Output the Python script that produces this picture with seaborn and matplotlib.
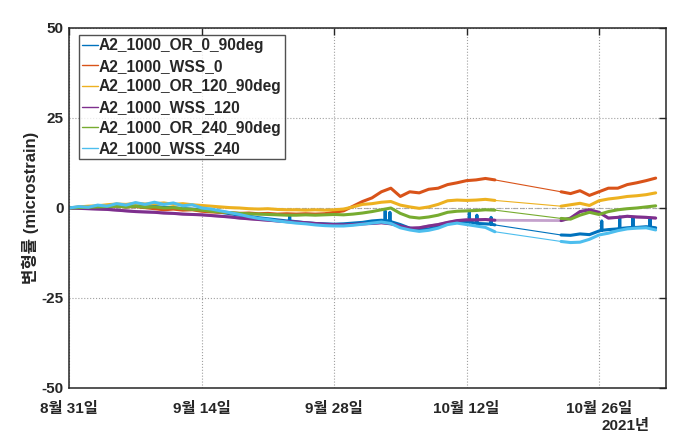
"""
Strain history plot for the A2_1000 gauges (OR / WSS pairs)
"""
import matplotlib
matplotlib.use("Agg")
import matplotlib.pyplot as plt
import matplotlib.dates as mdates
from matplotlib.lines import Line2D
import numpy as np
import pandas as pd
import seaborn as sns

START = pd.Timestamp("2021-08-31")

# day offsets from Aug 31 (gap in logging between Oct 15 and Oct 22)
DAYS = list(range(0, 46)) + list(range(52, 63))

SERIES = ["A2_1000_OR_0_90deg", "A2_1000_WSS_0", "A2_1000_OR_120_90deg",
          "A2_1000_WSS_120", "A2_1000_OR_240_90deg", "A2_1000_WSS_240"]
COLORS = ["#0072BD", "#D95319", "#EDB120", "#7E2F8E", "#77AC30", "#4DBEEE"]

or_0 = [0, 0.1, 0.3, 0.3, 0.5, 0.6, 0.4, 0.6, 0.3, 0.4, 0.2, 0.1, -0.2, -0.3, -0.5,
        -0.9, -1.2, -1.6, -2.0, -2.3, -2.7, -3.0, -3.3, -3.6, -3.8, -4.1, -4.3, -4.4, -4.5, -4.4,
        -4.2, -4.0, -3.6, -3.4, -3.8, -4.6, -5.6, -6.0, -5.8, -5.2, -4.4, -4.0, -3.8, -4.2, -4.4, -4.7,
        -7.5, -7.6, -7.2, -7.4, -6.4, -6.0, -5.8, -5.5, -5.4, -5.2, -5.5]
wss_0 = [0, 0.2, 0.4, 0.3, 0.6, 0.5, 0.3, 0.4, 0.1, -0.2, -0.5, -0.3, -0.6, -0.5, -0.9,
         -1.1, -1.2, -1.3, -1.5, -1.4, -1.6, -1.5, -1.7, -1.6, -1.7, -1.6, -1.7, -1.6, -1.2, -0.8,
         0.5, 1.8, 2.8, 4.5, 5.5, 3.2, 4.5, 4.2, 5.2, 5.5, 6.5, 7.0, 7.6, 7.8, 8.2, 7.8,
         4.5, 4.0, 4.8, 3.5, 4.5, 5.5, 5.5, 6.5, 7.0, 7.6, 8.3]
or_120 = [0, 0.3, 0.5, 0.6, 0.9, 1.1, 1.0, 1.3, 1.1, 1.2, 1.4, 1.0, 1.2, 0.9, 0.7,
          0.5, 0.3, 0.1, 0.0, -0.2, -0.3, -0.2, -0.4, -0.5, -0.5, -0.6, -0.5, -0.6, -0.5, -0.3,
          0.3, 1.0, 1.2, 1.6, 1.8, 0.8, 0.3, -0.1, 0.3, 1.0, 2.0, 2.2, 2.1, 2.2, 2.4, 2.1,
          0.5, 0.9, 1.3, 0.7, 2.0, 2.5, 2.8, 3.2, 3.4, 3.7, 4.2]
wss_120 = [0, -0.1, -0.2, -0.3, -0.4, -0.6, -0.8, -1.0, -1.1, -1.2, -1.4, -1.5, -1.7, -1.8, -1.9,
           -2.1, -2.3, -2.5, -2.8, -3.0, -3.2, -3.4, -3.6, -3.8, -3.9, -4.1, -4.3, -4.5, -4.6, -4.7,
           -4.6, -4.4, -4.3, -4.1, -4.4, -5.0, -5.6, -5.5, -5.0, -4.6, -4.0, -3.5, -3.3, -3.3, -3.2, -3.4,
           -3.5, -2.8, -1.0, -0.5, -1.2, -2.8, -2.6, -2.3, -2.5, -2.6, -2.8]
or_240 = [0, 0.1, 0.2, 0.3, 0.4, 0.5, 0.3, 0.5, 0.2, 0.3, 0.0, 0.1, -0.2, -0.4, -0.6,
          -0.9, -1.1, -1.3, -1.5, -1.6, -1.7, -1.8, -1.9, -2.0, -2.0, -1.9, -2.0, -1.9, -1.8, -1.9,
          -1.7, -1.4, -1.0, -0.5, 0.0, -1.5, -2.5, -2.8, -2.5, -2.0, -1.2, -0.9, -0.8, -0.7, -0.5, -0.6,
          -2.9, -3.1, -2.0, -1.2, -1.8, -1.0, -0.5, -0.2, 0.0, 0.3, 0.6]
wss_240 = [0, 0.4, 0.2, 0.8, 0.5, 1.2, 0.8, 1.5, 1.0, 1.6, 1.0, 1.4, 0.6, 0.9, 0.0,
           -0.3, -0.8, -1.3, -1.8, -2.4, -2.9, -3.2, -3.6, -3.9, -4.2, -4.4, -4.7, -4.9, -5.0, -5.0,
           -4.8, -4.5, -4.2, -3.9, -4.3, -5.5, -6.1, -6.5, -6.2, -5.6, -4.6, -4.2, -4.6, -5.0, -5.4, -6.6,
           -9.3, -9.6, -9.5, -8.7, -7.5, -7.0, -6.3, -5.8, -5.6, -5.5, -6.1]

# short upward spikes on the OR_0 gauge (day offset, base, peak)
SPIKE_DAYS = [23.3, 33.4, 33.9, 42.3, 43.1, 44.6, 56.3, 58.2, 59.6, 61.4]
SPIKE_BASE = [-3.6, -3.5, -3.6, -3.9, -4.3, -4.5, -6.2, -5.7, -5.4, -5.3]
SPIKE_PEAK = [-1.8, -0.8, -1.2, -1.0, -2.0, -2.6, -3.6, -2.5, -2.8, -2.8]

X_TICKS = ["2021-08-31", "2021-09-14", "2021-09-28", "2021-10-12", "2021-10-26"]
Y_TICKS = [-50, -25, 0, 25, 50]

values = [or_0, wss_0, or_120, wss_120, or_240, wss_240]
rows = []
for name, vals in zip(SERIES, values):
    for d, v in zip(DAYS, vals):
        rows.append((name, d, v))
for d, b, p in zip(SPIKE_DAYS, SPIKE_BASE, SPIKE_PEAK):
    rows += [(SERIES[0], d - 0.03, b), (SERIES[0], d, p), (SERIES[0], d + 0.03, b)]

df = pd.DataFrame(rows, columns=["series", "day", "strain"]).sort_values(["series", "day"])
df["segment"] = np.where(df["day"] < 48, 0, 1)
df["date"] = START + pd.to_timedelta(df["day"], unit="D")
palette = dict(zip(SERIES, COLORS))

sns.set_style("white")
plt.rcParams["font.family"] = ["Liberation Sans", "Noto Sans CJK KR"]
plt.rcParams["font.weight"] = "bold"
plt.rcParams["axes.unicode_minus"] = False

fig = plt.figure(figsize=(6.89, 4.47), dpi=100)
ax = fig.add_axes([0.1006, 0.132, 0.8661, 0.8054])

for name in SERIES:
    sub = df[df["series"] == name]
    is_purple = name == SERIES[3]
    # thin connector across the logging gap
    sns.lineplot(data=sub, x="date", y="strain", color=palette[name], estimator=None,
                 lw=2.0 if is_purple else 0.8, alpha=0.45 if is_purple else 1.0,
                 sort=False, legend=False, ax=ax)
    sns.lineplot(data=sub, x="date", y="strain", units="segment", color=palette[name],
                 estimator=None, lw=2.2, sort=False, legend=False, ax=ax)

ax.axhline(0, color="#b0b0b0", lw=0.8, ls=(0, (4, 3)), zorder=0)
ax.set_xlim(START, START + pd.Timedelta(days=63.1))
ax.set_ylim(-50, 50)
ax.set_xticks(pd.to_datetime(X_TICKS))
ax.xaxis.set_major_formatter(mdates.DateFormatter("%-m월 %-d일"))
ax.set_yticks(Y_TICKS)
ax.grid(True, ls=":", color="#a0a0a0", lw=0.8)
ax.tick_params(direction="in", top=True, right=True, length=5, width=1, labelsize=11,
               colors="#262626")
ax.tick_params(axis="x", pad=10)
ax.tick_params(axis="y", pad=4)
for lab in ax.get_xticklabels() + ax.get_yticklabels():
    lab.set_fontweight("bold")
for sp in ax.spines.values():
    sp.set_color("#262626")
    sp.set_linewidth(1.1)
ax.set_xlabel("")
ax.set_ylabel("변형률 (microstrain)", fontsize=12, fontweight="bold", labelpad=2)
fig.text(650 / 689, 1 - 426 / 447, "2021년", ha="right", va="center", fontsize=11,
         fontweight="bold", color="#262626")

handles = [Line2D([], [], color=c, lw=1) for c in COLORS]
leg = ax.legend(handles, SERIES, loc="upper left", bbox_to_anchor=(0.016, 0.98),
                fontsize=11.2, frameon=True, fancybox=False, handlelength=1.0,
                handletextpad=0.1, borderpad=0.2, labelspacing=0.36, borderaxespad=0)
leg.get_frame().set_edgecolor("#262626")
leg.get_frame().set_linewidth(1)
for t in leg.get_texts():
    t.set_fontweight("bold")

fig.savefig("out.png", dpi=100)
